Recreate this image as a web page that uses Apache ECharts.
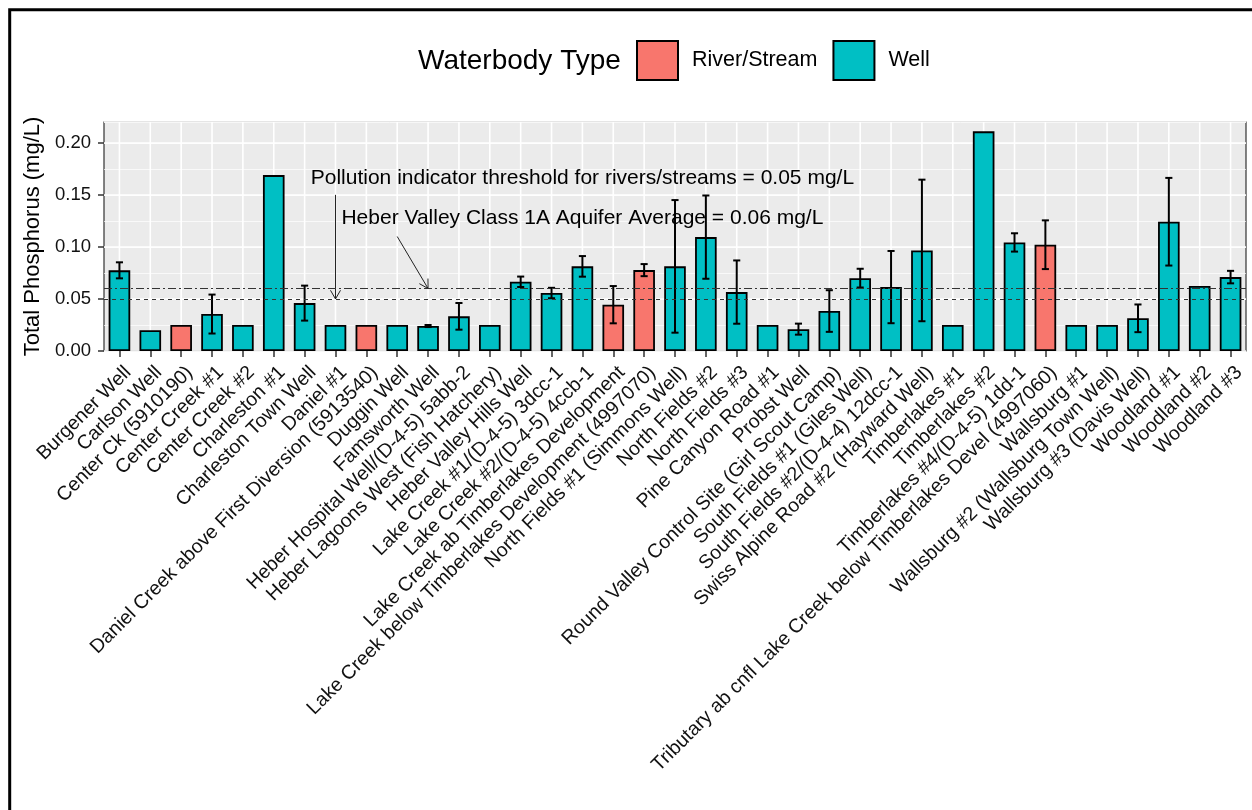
<!DOCTYPE html>
<html>
<head>
<meta charset="utf-8">
<title>Total Phosphorus by Site</title>
<script src="https://cdn.jsdelivr.net/npm/echarts@6/dist/echarts.min.js"></script>
<style>
  html, body { margin: 0; padding: 0; background: #ffffff; }
  #chart { width: 1252px; height: 810px; }
</style>
</head>
<body>
<div id="chart"></div>
<script>
// Sampling sites (x-axis categories)
const categories = [
  'Burgener Well', 'Carlson Well', 'Center Ck (5910190)', 'Center Creek #1', 'Center Creek #2',
  'Charleston #1', 'Charleston Town Well', 'Daniel #1', 'Daniel Creek above First Diversion (5913540)',
  'Duggin Well', 'Famsworth Well', 'Heber Hospital Well/(D-4-5) 5abb-2', 'Heber Lagoons West (Fish Hatchery)',
  'Heber Valley Hills Well', 'Lake Creek #1/(D-4-5) 3dcc-1', 'Lake Creek #2/(D-4-5) 4ccb-1',
  'Lake Creek ab Timberlakes Development', 'Lake Creek below Timberlakes Development (4997070)',
  'North Fields #1 (Simmons Well)', 'North Fields #2', 'North Fields #3', 'Pine Canyon Road #1',
  'Probst Well', 'Round Valley Control Site (Girl Scout Camp)', 'South Fields #1 (Giles Well)',
  'South Fields #2/(D-4-4) 12dcc-1', 'Swiss Alpine Road #2 (Hayward Well)', 'Timberlakes #1',
  'Timberlakes #2', 'Timberlakes #4/(D-4-5) 1dd-1',
  'Tributary ab cnfl Lake Creek below Timberlakes Devel (4997060)', 'Wallsburg #1',
  'Wallsburg #2 (Wallsburg Town Well)', 'Wallsburg #3 (Davis Well)', 'Woodland #1', 'Woodland #2', 'Woodland #3'
];

// Waterbody type of each site
const waterbodyType = [
  'Well', 'Well', 'River/Stream', 'Well', 'Well',
  'Well', 'Well', 'Well', 'River/Stream',
  'Well', 'Well', 'Well', 'Well',
  'Well', 'Well', 'Well',
  'River/Stream', 'River/Stream',
  'Well', 'Well', 'Well', 'Well',
  'Well', 'Well', 'Well',
  'Well', 'Well', 'Well',
  'Well', 'Well',
  'River/Stream', 'Well',
  'Well', 'Well', 'Well', 'Well', 'Well'
];

// Mean total phosphorus (mg/L)
const meanTP = [
  0.0775, 0.020, 0.025, 0.0355, 0.025,
  0.169, 0.046, 0.025, 0.025,
  0.025, 0.024, 0.0333, 0.025,
  0.0665, 0.0557, 0.0813,
  0.0445, 0.0777,
  0.0813, 0.1094, 0.0566, 0.025,
  0.021, 0.0384, 0.070,
  0.0614, 0.0966, 0.025,
  0.211, 0.1043,
  0.1021, 0.025,
  0.025, 0.0314, 0.1242, 0.0624, 0.071
];

// Error bar half-width (mg/L); null where a site has a single sample
const errTP = [
  0.0077, null, null, 0.0187, null,
  null, 0.0168, null, null,
  null, 0.001, 0.0128, null,
  0.005, 0.005, 0.0099,
  0.0179, 0.0058,
  0.0637, 0.040, 0.0304, null,
  0.0053, 0.020, 0.009,
  0.0347, 0.068, null,
  null, 0.0088,
  0.0234, null,
  null, 0.0133, 0.0421, null, 0.006
];

// Y axis ticks
const yTicks = [0.00, 0.05, 0.10, 0.15, 0.20];
const yMax = 0.22;

// Reference levels
const riverThreshold = 0.05;
const aquiferAverage = 0.06;

// Annotation labels, anchored at [category index, value]
const annotationLabels = [
  { text: 'Pollution indicator threshold for rivers/streams = 0.05 mg/L', at: [15, 0.166] },
  { text: 'Heber Valley Class 1A Aquifer Average = 0.06 mg/L', at: [15, 0.128] }
];
// Annotation arrows, from -> to in [category index, value]
const annotationArrows = [
  { from: [7, 0.15], to: [7, riverThreshold] },
  { from: [9, 0.11], to: [10, aquiferAverage] }
];

const COLORS = { 'River/Stream': '#F8766D', 'Well': '#00BFC4' };
const FONT = '"Liberation Sans", Arial, Helvetica, sans-serif';

const chart = echarts.init(document.getElementById('chart'), null, { renderer: 'canvas' });

function barData(type) {
  return meanTP.map((v, i) => (waterbodyType[i] === type ? v : '-'));
}

const errData = [];
errTP.forEach((e, i) => {
  if (e != null) errData.push([i, meanTP[i] - e, meanTP[i] + e]);
});

const option = {
  backgroundColor: '#ffffff',
  animation: false,
  textStyle: { fontFamily: FONT },
  graphic: [
    {
      type: 'rect', z: 100, silent: true,
      shape: { x: 9.7, y: 9.7, width: 1400, height: 1000 },
      style: { fill: 'none', stroke: '#000', lineWidth: 3 }
    },
    {
      type: 'text', x: 418, y: 61, silent: true,
      style: { text: 'Waterbody Type', font: '28px ' + FONT, fill: '#000', verticalAlign: 'middle', align: 'left' }
    }
  ],
  legend: {
    left: 636, top: 40, padding: 0,
    itemWidth: 41, itemHeight: 39, itemGap: 15,
    selectedMode: false,
    data: [
      { name: 'River/Stream', icon: 'rect' },
      { name: 'Well', icon: 'rect' }
    ],
    textStyle: { fontSize: 21.5, color: '#000', fontFamily: FONT, padding: [0, 0, 0, 9] }
  },
  grid: {
    left: 104, right: 6, top: 122, bottom: 459,
    show: true, backgroundColor: '#EBEBEB', borderColor: '#333', borderWidth: 1.2
  },
  xAxis: {
    type: 'category',
    data: categories,
    axisLine: { show: false },
    axisTick: { show: true, alignWithLabel: true, length: 6, lineStyle: { color: '#333', width: 1.5 } },
    axisLabel: {
      interval: 0, rotate: 45, fontSize: 19.6, color: '#111', fontFamily: FONT,
      margin: 27, padding: [35, -12, 0, 0]
    },
    splitLine: { show: false }
  },
  yAxis: [
    {
      type: 'value', min: 0, max: yMax, interval: 0.05,
      name: 'Total Phosphorus (mg/L)', nameLocation: 'middle', nameGap: 56,
      nameTextStyle: { fontSize: 22, color: '#000', fontFamily: FONT },
      axisLine: { show: false },
      axisTick: { show: true, length: 6, lineStyle: { color: '#333', width: 1.5 } },
      axisLabel: {
        fontSize: 18.5, color: '#111', fontFamily: FONT, margin: 13, showMaxLabel: false,
        formatter: v => (yTicks.some(t => Math.abs(t - v) < 1e-9) ? v.toFixed(2) : '')
      },
      splitLine: { show: true, lineStyle: { color: '#ffffff', width: 1.6 } }
    },
    {
      type: 'value', min: 0, max: yMax, interval: 0.025, position: 'left',
      axisLine: { show: false }, axisTick: { show: false }, axisLabel: { show: false },
      splitLine: { show: true, lineStyle: { color: '#ffffff', width: 0.7 } }
    }
  ],
  series: [
    {
      // vertical panel grid lines at each site
      type: 'custom', name: 'vgrid', z: 1, silent: true,
      data: categories.map((c, i) => [i]),
      renderItem: (params, api) => {
        const top = api.coord([api.value(0), yMax]);
        const bot = api.coord([api.value(0), 0]);
        return {
          type: 'line',
          shape: { x1: top[0], y1: top[1], x2: bot[0], y2: bot[1] },
          style: { stroke: '#ffffff', lineWidth: 1.6 }
        };
      }
    },
    {
      type: 'bar', name: 'River/Stream', z: 2,
      data: barData('River/Stream'),
      barWidth: '70%', barGap: '-100%',
      itemStyle: { color: COLORS['River/Stream'], borderColor: '#000', borderWidth: 1.8 }
    },
    {
      type: 'bar', name: 'Well', z: 2,
      data: barData('Well'),
      barWidth: '70%', barGap: '-100%',
      itemStyle: { color: COLORS['Well'], borderColor: '#000', borderWidth: 1.8 },
      markLine: {
        silent: true, symbol: 'none', label: { show: false },
        data: [
          { yAxis: riverThreshold, lineStyle: { color: '#333', width: 1, type: [4, 4] } },
          { yAxis: aquiferAverage, lineStyle: { color: '#333', width: 1, type: [8, 3, 2, 3] } }
        ]
      }
    },
    {
      // error bars
      type: 'custom', name: 'errorbars', z: 3, silent: true,
      data: errData,
      renderItem: (params, api) => {
        const x = api.value(0);
        const lo = api.coord([x, api.value(1)]);
        const hi = api.coord([x, api.value(2)]);
        const half = api.size([1, 0])[0] * 0.115;
        const st = { stroke: '#000', lineWidth: 2 };
        return {
          type: 'group',
          children: [
            { type: 'line', shape: { x1: lo[0], y1: lo[1], x2: hi[0], y2: hi[1] }, style: st },
            { type: 'line', shape: { x1: hi[0] - half, y1: hi[1], x2: hi[0] + half, y2: hi[1] }, style: st },
            { type: 'line', shape: { x1: lo[0] - half, y1: lo[1], x2: lo[0] + half, y2: lo[1] }, style: st }
          ]
        };
      }
    },
    {
      // annotation arrows with open heads
      type: 'custom', name: 'arrows', z: 4, silent: true,
      data: annotationArrows.map(a => [a.from[0], a.from[1], a.to[0], a.to[1]]),
      renderItem: (params, api) => {
        const p0 = api.coord([api.value(0), api.value(1)]);
        const p1 = api.coord([api.value(2), api.value(3)]);
        const ang = Math.atan2(p1[1] - p0[1], p1[0] - p0[0]);
        const len = 10, spread = Math.PI / 6;
        const a1 = [p1[0] - len * Math.cos(ang - spread), p1[1] - len * Math.sin(ang - spread)];
        const a2 = [p1[0] - len * Math.cos(ang + spread), p1[1] - len * Math.sin(ang + spread)];
        const st = { stroke: '#222', lineWidth: 1, fill: null };
        return {
          type: 'group',
          children: [
            { type: 'line', shape: { x1: p0[0], y1: p0[1], x2: p1[0], y2: p1[1] }, style: st },
            { type: 'polyline', shape: { points: [a1, p1, a2] }, style: st }
          ]
        };
      }
    },
    {
      // annotation text
      type: 'custom', name: 'notes', z: 5, silent: true,
      data: annotationLabels.map((a, i) => [a.at[0], a.at[1], i]),
      renderItem: (params, api) => {
        const p = api.coord([api.value(0), api.value(1)]);
        return {
          type: 'text',
          x: p[0], y: p[1],
          style: {
            text: annotationLabels[api.value(2)].text,
            font: '21px ' + FONT, fill: '#000', align: 'center', verticalAlign: 'middle'
          }
        };
      }
    }
  ]
};

chart.setOption(option);
</script>
</body>
</html>
